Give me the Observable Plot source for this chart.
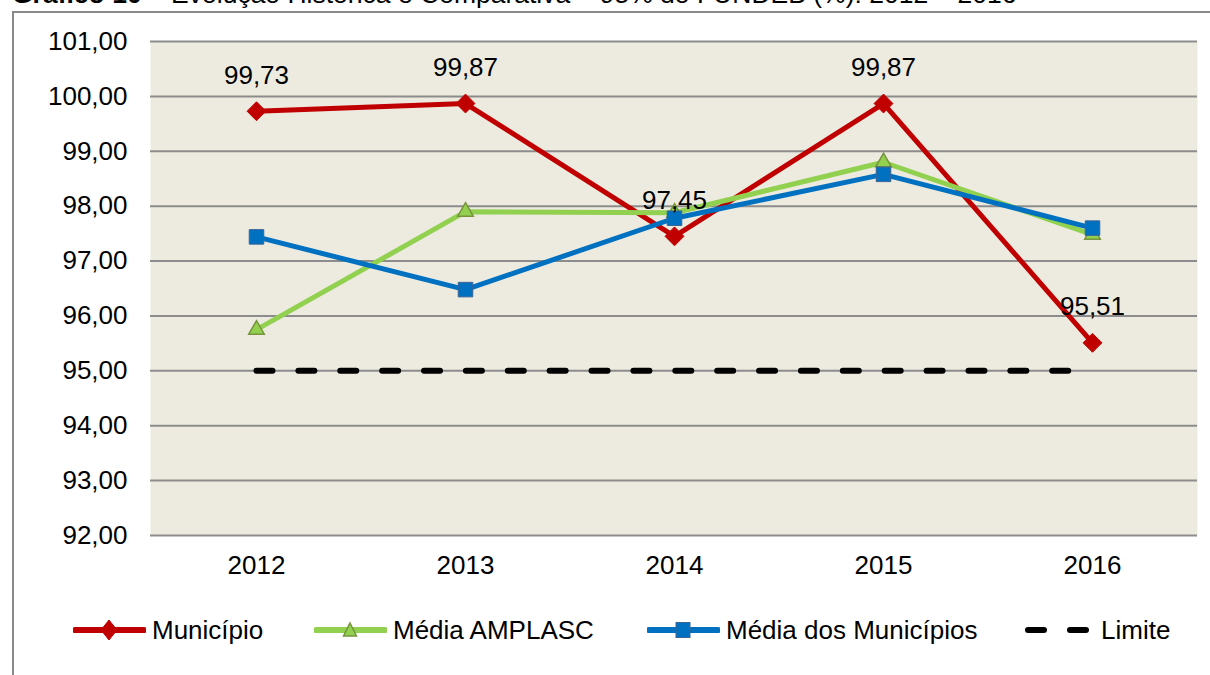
<!DOCTYPE html>
<html>
<head>
<meta charset="utf-8">
<script src="https://cdn.jsdelivr.net/npm/d3@7"></script>
<script src="https://cdn.jsdelivr.net/npm/@observablehq/plot@0.6"></script>
<style>
  html, body { margin: 0; padding: 0; background: #fff; }
  #wrap { position: relative; width: 1210px; height: 675px; overflow: hidden; font-family: "Liberation Sans", Arial, sans-serif; color: #000; }
  #title { position: absolute; left: 12px; top: -19px; font-size: 26.5px; line-height: 1; white-space: nowrap; }
  #border { position: absolute; left: 12px; top: 11px; width: 1300px; height: 800px; border-left: 2px solid #8a8a8a; border-top: 2px solid #8a8a8a; box-sizing: border-box; }
  #chart { position: absolute; left: 0; top: 0; }
  .leg { position: absolute; top: 612px; height: 36px; display: flex; align-items: center; font-size: 26px; white-space: nowrap; }
  .leg svg { display: block; margin-right: 6px; }
</style>
</head>
<body>
<div id="wrap">
  <div id="title"><b>Gráfico 10</b> – Evolução Histórica e Comparativa – 95% do FUNDEB (%): 2012 – 2016</div>
  <div id="border"></div>
  <div id="chart"></div>
  <div id="legend"></div>
</div>
<script>
// ---- data ----
const years = ["2012", "2013", "2014", "2015", "2016"];
const municipio = [99.73, 99.87, 97.45, 99.87, 95.51];
const mediaAmplasc = [95.75, 97.90, 97.88, 98.80, 97.48];
const mediaMunicipios = [97.44, 96.48, 97.78, 98.58, 97.60];
const limite = [95, 95, 95, 95, 95];
const yTicks = [92, 93, 94, 95, 96, 97, 98, 99, 100, 101];
const seriesNames = ["Município", "Média AMPLASC", "Média dos Municípios", "Limite"];

const fmt = v => v.toFixed(2).replace(".", ",");
const rows = arr => years.map((y, i) => ({year: y, value: arr[i]}));

const dMun = rows(municipio);
const dAmp = rows(mediaAmplasc);
const dMed = rows(mediaMunicipios);
const dLim = rows(limite);

const RED = "#C00000", GREEN = "#92D050", BLUE = "#0070C0";

const chart = Plot.plot({
  width: 1210,
  height: 675,
  marginTop: 41,
  marginBottom: 140,
  marginLeft: 150,
  marginRight: 13,
  style: {fontFamily: "'Liberation Sans', Arial, sans-serif", fontSize: "26px", background: "transparent", color: "#000", overflow: "visible"},
  x: {type: "point", domain: years, padding: 0.5, label: null},
  y: {domain: [92, 101], label: null},
  marks: [
    Plot.frame({fill: "#EDEBE0", stroke: null}),
    Plot.ruleY(yTicks, {stroke: "#8c8c8c", strokeWidth: 2}),
    Plot.axisY({ticks: yTicks, tickFormat: fmt, tickSize: 0, tickPadding: 23, fontSize: 26, label: null}),
    Plot.axisX({tickSize: 0, tickPadding: 20, fontSize: 26, label: null}),
    Plot.line(dMun, {x: "year", y: "value", stroke: RED, strokeWidth: 5, strokeLinejoin: "round"}),
    Plot.dot(dMun, {x: "year", y: "value", symbol: "diamond2", r: 8.5, fill: RED, stroke: RED, strokeWidth: 1}),
    Plot.line(dAmp, {x: "year", y: "value", stroke: GREEN, strokeWidth: 5, strokeLinejoin: "round"}),
    Plot.dot(dAmp, {x: "year", y: "value", symbol: "triangle", r: 5.8, fill: GREEN, stroke: "#77933C", strokeWidth: 1.5}),
    Plot.line(dMed, {x: "year", y: "value", stroke: BLUE, strokeWidth: 5, strokeLinejoin: "round"}),
    Plot.dot(dMed, {x: "year", y: "value", symbol: "square", r: 8.2, fill: BLUE, stroke: "#3B6496", strokeWidth: 1}),
    Plot.line(dLim, {x: "year", y: "value", stroke: "#000", strokeWidth: 6, strokeLinecap: "round", strokeDasharray: "16,25.88"}),
    Plot.text(dMun, {x: "year", y: "value", text: d => fmt(d.value), dy: -36, fontSize: 26, fill: "#000"})
  ]
});
document.getElementById("chart").appendChild(chart);

// ---- legend ----
const legendDefs = [
  {name: seriesNames[0], left: 73, color: RED, marker: "diamond"},
  {name: seriesNames[1], left: 314, color: GREEN, marker: "triangle"},
  {name: seriesNames[2], left: 647, color: BLUE, marker: "square"},
  {name: seriesNames[3], left: 1023, color: "#000", marker: "dash"}
];
const legend = document.getElementById("legend");
for (const it of legendDefs) {
  const div = document.createElement("div");
  div.className = "leg";
  div.style.left = it.left + "px";
  let svg;
  if (it.marker === "dash") {
    svg = `<svg width="72" height="36"><line x1="5" x2="71" y1="18" y2="18" stroke="#000" stroke-width="6" stroke-linecap="round" stroke-dasharray="16,26"/></svg>`;
  } else {
    let m = "";
    if (it.marker === "diamond") m = `<path d="M36,8 L44,18 L36,28 L28,18 Z" fill="${RED}" stroke="${RED}"/>`;
    if (it.marker === "triangle") m = `<path d="M36,11 L42.5,24 L29.5,24 Z" fill="${GREEN}" stroke="#77933C" stroke-width="1.5"/>`;
    if (it.marker === "square") m = `<rect x="29" y="10.5" width="14" height="15" fill="${BLUE}" stroke="#3B6496"/>`;
    svg = `<svg width="73" height="36"><line x1="2" x2="71" y1="18" y2="18" stroke="${it.color}" stroke-width="6" stroke-linecap="round"/>${m}</svg>`;
  }
  div.innerHTML = svg + `<span>${it.name}</span>`;
  legend.appendChild(div);
}
</script>
</body>
</html>
